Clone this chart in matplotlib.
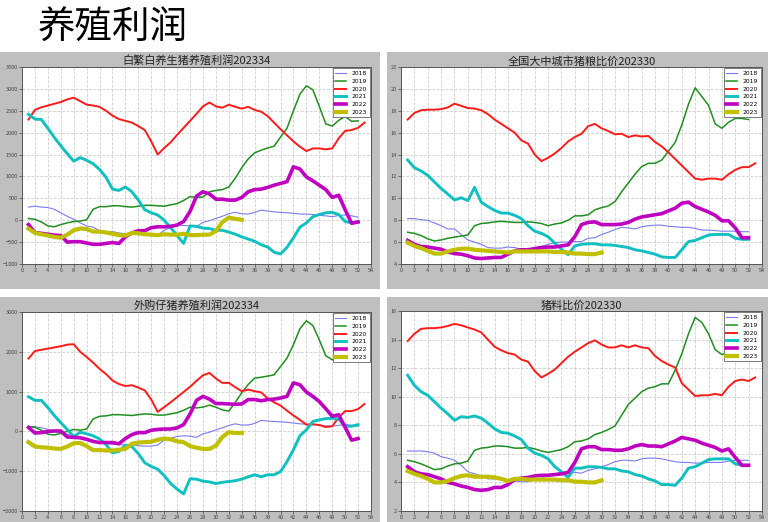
import matplotlib
matplotlib.use("Agg")
import matplotlib.pyplot as plt
from matplotlib.patches import Rectangle
import numpy as np

plt.rcParams['font.family'] = ['Noto Sans CJK SC', 'DejaVu Sans']

years = ['2018', '2019', '2020', '2021', '2022', '2023']

# ---- Panel 1: 白繁白养生猪养殖利润 ----
p1_title = '白繁白养生猪养殖利润202334'
p1_2018 = [300, 320, 300, 290, 250, 170, 90, 20, -60, -130, -160, -240, -280, -260, -290, -310, -310, -300, -310, -330,
           -340, -230, -160, -110, -120, -130, -140, -50, -10, 40, 90, 150, 180, 150, 140, 180, 230, 210, 190, 180,
           170, 160, 140, 140, 130, 110, 100, 80, 110, 120, 100, 70]
p1_2019 = [40, 20, -40, -130, -150, -100, -60, -30, -20, 10, 250, 310, 310, 330, 330, 310, 300, 320, 340, 340,
           330, 320, 350, 380, 450, 540, 520, 530, 650, 680, 700, 760, 960, 1200, 1400, 1540, 1600, 1650, 1690, 1900,
           2100, 2500, 2880, 3070, 2980, 2600, 2200, 2150, 2280, 2370, 2260, 2270]
p1_2020 = [2300, 2520, 2580, 2620, 2660, 2700, 2760, 2800, 2720, 2640, 2620, 2590, 2500, 2390, 2310, 2270, 2230, 2150,
           2060, 1800, 1500, 1650, 1780, 1950, 2110, 2270, 2430, 2600, 2690, 2600, 2570, 2640, 2590, 2550, 2590, 2520,
           2480, 2380, 2230, 2080, 1940, 1800, 1680, 1580, 1640, 1640, 1620, 1640, 1870, 2040, 2060, 2110, 2230]
p1_2021 = [2420, 2310, 2300, 2100, 1890, 1700, 1520, 1350, 1430, 1370, 1290, 1160, 980, 710, 680, 760, 650, 460, 240,
           170, 120, 0, -170, -350, -530, -130, -140, -180, -190, -230, -230, -270, -320, -380, -430, -480, -560, -610,
           -730, -770, -620, -400, -160, -60, 80, 130, 170, 180, 130, -30, -60, -40]
p1_2022 = [-100, -280, -300, -320, -340, -350, -500, -490, -490, -520, -550, -550, -530, -510, -530, -380, -290, -240,
           -240, -170, -150, -150, -140, -110, -30, 200, 550, 650, 600, 480, 480, 460, 460, 520, 650, 700, 710, 750,
           800, 840, 880, 1220, 1170, 990, 900, 800, 700, 520, 570, 240, -70, -40]
p1_2023 = [-190, -290, -320, -350, -380, -400, -330, -230, -190, -200, -260, -260, -280, -310, -340, -350, -290, -300,
           -320, -330, -340, -320, -330, -330, -310, -340, -340, -330, -330, -250, -40, 60, 30, 10]

# ---- Panel 2: 全国大中城市猪粮比价 ----
p2_title = '全国大中城市猪粮比价202330'
p2_2018 = [8.15, 8.15, 8.05, 8.0, 7.75, 7.5, 7.2, 7.2, 6.7, 6.2, 6.0, 5.8, 5.5, 5.45, 5.45, 5.55, 5.5, 5.35, 5.3, 5.5,
           5.6, 5.8, 5.95, 6.0, 6.0, 6.05, 6.05, 6.35, 6.4, 6.7, 6.9, 7.15, 7.35, 7.3, 7.2, 7.4, 7.5, 7.55, 7.55, 7.45,
           7.4, 7.35, 7.35, 7.25, 7.1, 7.1, 7.05, 7.0, 7.0, 7.0, 6.95, 6.95]
p2_2019 = [6.9, 6.8, 6.6, 6.3, 6.1, 6.2, 6.35, 6.45, 6.55, 6.65, 7.5, 7.7, 7.75, 7.85, 7.9, 7.85, 7.8, 7.8, 7.85, 7.8,
           7.7, 7.5, 7.65, 7.75, 8.0, 8.4, 8.4, 8.5, 8.95, 9.15, 9.3, 9.7, 10.6, 11.4, 12.2, 12.9, 13.2, 13.2, 13.5,
           14.3, 15.1, 16.7, 18.6, 20.1, 19.3, 18.5, 16.8, 16.4, 16.95, 17.3, 17.3, 17.2]
p2_2020 = [17.2, 17.8, 18.05, 18.1, 18.1, 18.15, 18.3, 18.65, 18.45, 18.25, 18.2, 18.05, 17.7, 17.2, 16.8, 16.4, 16.0,
           15.3, 15.0, 14.0, 13.4, 13.7, 14.1, 14.6, 15.2, 15.6, 15.9, 16.6, 16.8, 16.4, 16.15, 15.85, 15.9, 15.6,
           15.75, 15.65, 15.7, 15.15, 14.75, 14.2, 13.6, 13.0, 12.4, 11.8, 11.7, 11.8, 11.8, 11.7, 12.2, 12.6, 12.85,
           12.85, 13.2]
p2_2021 = [13.5, 12.8, 12.5, 12.1, 11.5, 10.9, 10.4, 9.85, 10.05, 9.8, 11.0, 9.65, 9.25, 8.9, 8.65, 8.65, 8.45, 8.15,
           7.5, 7.0, 6.8, 6.5, 5.9, 5.35, 4.85, 5.65, 5.8, 5.85, 5.85, 5.75, 5.75, 5.7, 5.6, 5.5, 5.3, 5.2, 5.05, 4.9,
           4.65, 4.6, 4.6, 5.3, 6.05, 6.15, 6.4, 6.65, 6.7, 6.7, 6.7, 6.35, 6.25, 6.25]
p2_2022 = [6.15, 5.8, 5.6, 5.55, 5.45, 5.35, 5.1, 4.95, 4.9, 4.75, 4.55, 4.5, 4.55, 4.6, 4.6, 4.9, 5.2, 5.3, 5.3, 5.4,
           5.5, 5.55, 5.55, 5.65, 5.75, 6.5, 7.6, 7.8, 7.85, 7.6, 7.6, 7.6, 7.65, 7.8, 8.1, 8.3, 8.4, 8.5, 8.6, 8.85,
           9.1, 9.55, 9.65, 9.25, 9.0, 8.75, 8.45, 7.95, 7.95, 7.3, 6.4, 6.4]
p2_2023 = [5.95, 5.65, 5.45, 5.2, 4.95, 4.95, 5.15, 5.3, 5.4, 5.4, 5.3, 5.25, 5.2, 5.15, 5.1, 5.05, 5.15, 5.15, 5.15,
           5.15, 5.15, 5.15, 5.1, 5.1, 5.05, 4.95, 4.95, 4.9, 4.9, 5.05]

# ---- Panel 3: 外购仔猪养殖利润 ----
p3_title = '外购仔猪养殖利润202334'
p3_2018 = [120, 120, 90, 50, 0, -20, -70, -120, -170, -210, -240, -290, -300, -320, -330, -340, -340, -360, -370, -370,
           -340, -220, -170, -130, -110, -120, -150, -60, -20, 40, 90, 150, 190, 160, 160, 200, 280, 260, 250, 240,
           230, 210, 190, 180, 170, 160, 140, 130, 150, 180, 150, 130]
p3_2019 = [120, 100, 30, -70, -90, -50, 0, 50, 30, 60, 310, 380, 390, 420, 420, 410, 400, 420, 440, 430, 410, 410, 440,
           470, 530, 610, 590, 610, 660, 610, 540, 510, 730, 970, 1180, 1340, 1360, 1390, 1420, 1630, 1840, 2180, 2580,
           2780, 2660, 2300, 1900, 1800, 1850, 1900, 1880, 1870]
p3_2020 = [1830, 2020, 2050, 2080, 2110, 2140, 2180, 2190, 2000, 1870, 1730, 1570, 1440, 1280, 1190, 1140, 1160, 1100,
           1030, 800, 490, 610, 730, 860, 990, 1120, 1270, 1410, 1470, 1330, 1220, 1220, 1110, 1010, 1050, 1010, 980,
           830, 730, 650, 520, 400, 290, 170, 180, 160, 110, 130, 350, 510, 510, 560, 690]
p3_2021 = [870, 780, 780, 600, 400, 220, 50, -130, -20, -60, -110, -190, -330, -540, -500, -350, -380, -560, -790, -880,
           -950, -1110, -1310, -1450, -1570, -1190, -1200, -1250, -1270, -1310, -1280, -1260, -1240, -1200, -1140,
           -1090, -1140, -1090, -1090, -1010, -760, -460, -110, 40, 250, 290, 320, 330, 310, 130, 130, 170]
p3_2022 = [100, -40, -30, 0, 10, 10, -140, -150, -160, -200, -250, -280, -280, -280, -310, -180, -80, -30, -30, 30, 50,
           60, 60, 90, 170, 440, 780, 880, 810, 700, 700, 690, 680, 690, 800, 800, 770, 800, 810, 840, 880, 1220, 1170,
           990, 880, 750, 570, 380, 420, 100, -220, -180]
p3_2023 = [-270, -380, -400, -410, -430, -440, -380, -300, -290, -370, -470, -470, -480, -480, -460, -440, -310, -280,
           -270, -260, -210, -180, -200, -250, -270, -370, -410, -440, -440, -360, -140, -20, -40, -40]

# ---- Panel 4: 猪料比价 ----
p4_title = '猪料比价202330'
p4_2018 = [6.2, 6.2, 6.2, 6.15, 6.05, 5.8, 5.7, 5.55, 5.2, 4.75, 4.6, 4.45, 4.25, 4.25, 4.25, 4.15, 4.1, 4.05, 4.05,
           4.2, 4.3, 4.5, 4.6, 4.7, 4.75, 4.7, 4.65, 4.85, 4.95, 5.1, 5.25, 5.45, 5.55, 5.55, 5.5, 5.65, 5.7, 5.7,
           5.65, 5.55, 5.45, 5.4, 5.4, 5.35, 5.35, 5.4, 5.4, 5.4, 5.5, 5.55, 5.55, 5.55]
p4_2019 = [5.55, 5.45, 5.3, 5.1, 4.9, 4.95, 5.15, 5.3, 5.35, 5.5, 6.25, 6.4, 6.45, 6.55, 6.55, 6.5, 6.4, 6.4, 6.45,
           6.35, 6.2, 6.1, 6.2, 6.3, 6.5, 6.85, 6.9, 7.05, 7.35, 7.5, 7.7, 7.95, 8.7, 9.45, 9.9, 10.35, 10.6, 10.7,
           10.9, 10.9, 11.85, 13.0, 14.4, 15.55, 15.2, 14.4, 13.3, 12.95, 13.1, 13.3, 13.2, 13.1]
p4_2020 = [13.9, 14.4, 14.75, 14.8, 14.8, 14.85, 14.95, 15.1, 15.0, 14.85, 14.7, 14.5, 14.0, 13.5, 13.25, 13.05, 12.95,
           12.6, 12.45, 11.8, 11.35, 11.6, 11.9, 12.35, 12.8, 13.15, 13.45, 13.75, 13.95, 13.65, 13.45, 13.45, 13.6,
           13.45, 13.6, 13.45, 13.4, 12.85, 12.5, 12.25, 12.05, 10.95, 10.5, 10.05, 10.1, 10.1, 10.2, 10.1, 10.7,
           11.1, 11.2, 11.1, 11.35]
p4_2021 = [11.5, 10.8, 10.35, 10.1, 9.65, 9.2, 8.8, 8.35, 8.6, 8.55, 8.65, 8.5, 8.15, 7.75, 7.5, 7.45, 7.25, 7.0, 6.4,
           6.05, 5.9, 5.65, 5.1, 4.75, 4.35, 5.0, 5.0, 5.1, 5.1, 5.05, 4.95, 4.95, 4.8, 4.75, 4.55, 4.45, 4.25, 4.1,
           3.85, 3.85, 3.8, 4.3, 5.0, 5.1, 5.35, 5.6, 5.65, 5.65, 5.65, 5.3, 5.2, 5.2]
p4_2022 = [5.1, 4.75, 4.6, 4.55, 4.4, 4.25, 4.0, 3.9, 3.75, 3.65, 3.5, 3.45, 3.5, 3.65, 3.65, 3.85, 4.2, 4.3, 4.35,
           4.45, 4.5, 4.5, 4.55, 4.6, 4.7, 5.4, 6.35, 6.5, 6.5, 6.3, 6.3, 6.25, 6.25, 6.35, 6.55, 6.65, 6.55, 6.55,
           6.5, 6.7, 6.9, 7.15, 7.05, 6.95, 6.75, 6.6, 6.45, 6.2, 6.35, 5.75, 5.2, 5.2]
p4_2023 = [4.8, 4.6, 4.45, 4.25, 4.0, 4.0, 4.1, 4.3, 4.45, 4.5, 4.4, 4.4, 4.4, 4.35, 4.25, 4.1, 4.25, 4.25, 4.2, 4.2,
           4.2, 4.2, 4.2, 4.15, 4.15, 4.05, 4.05, 4.0, 4.0, 4.15]

panels = [
    dict(title=p1_title, series=[p1_2018, p1_2019, p1_2020, p1_2021, p1_2022, p1_2023],
         ylim=(-1000, 3500), yticks=np.arange(-1000, 3501, 500)),
    dict(title=p2_title, series=[p2_2018, p2_2019, p2_2020, p2_2021, p2_2022, p2_2023],
         ylim=(4, 22), yticks=np.arange(4, 23, 2)),
    dict(title=p3_title, series=[p3_2018, p3_2019, p3_2020, p3_2021, p3_2022, p3_2023],
         ylim=(-2000, 3000), yticks=np.arange(-2000, 3001, 1000)),
    dict(title=p4_title, series=[p4_2018, p4_2019, p4_2020, p4_2021, p4_2022, p4_2023],
         ylim=(2, 16), yticks=np.arange(2, 17, 2)),
]

colors = ['#7b7bf0', '#1f8f1f', '#ff1a1a', '#10c0c0', '#c000c0', '#c0c000']
widths = [0.8, 1.1, 1.4, 2.1, 2.6, 3.0]

W, H = 775, 522
fig = plt.figure(figsize=(W / 100, H / 100), dpi=100)
fig.patch.set_facecolor('white')

def fx(px):
    return px / W

def fy(py):
    return 1 - py / H

# gray panel backgrounds (px: x0, y0, x1, y1)
bgs = [(0, 52, 380, 289), (387, 52, 768, 289), (0, 297, 380, 522), (387, 297, 768, 522)]
for (x0, y0, x1, y1) in bgs:
    fig.patches.append(Rectangle((fx(x0), fy(y1)), fx(x1 - x0), (y1 - y0) / H,
                                 transform=fig.transFigure, facecolor='#bfbfbf', edgecolor='none', zorder=-5))

# axes boxes (px: left, top, right, bottom)
boxes = [(22, 67, 371, 264), (401, 67, 762, 264), (22, 312, 371, 511), (401, 311, 762, 511)]

fig.text(fx(38), fy(28), '养殖利润', fontsize=27, color='black', va='center', ha='left')

for p, (l, t, r, b) in zip(panels, boxes):
    ax = fig.add_axes([fx(l), fy(b), fx(r - l), (b - t) / H])
    ax.set_zorder(2)
    ax.set_facecolor('white')
    for yr, s, c, w in zip(years, p['series'], colors, widths):
        x = np.arange(1, len(s) + 1)
        ax.plot(x, s, color=c, lw=w, label=yr, solid_joinstyle='round')
    ax.set_xlim(0, 54)
    ax.set_ylim(*p['ylim'])
    ax.set_xticks(np.arange(0, 55, 2))
    ax.set_yticks(p['yticks'])
    ax.grid(True, ls='--', color='#cfcfcf', lw=0.6)
    ax.tick_params(labelsize=4, length=2, width=0.5, colors='#444444', pad=1)
    for sp in ax.spines.values():
        sp.set_color('#555555')
        sp.set_linewidth(0.7)
    ax.set_title(p['title'], fontsize=8, pad=1.5, color='#222222')
    leg = ax.legend(loc='upper right', prop={'family': 'DejaVu Sans', 'size': 4.3},
                    frameon=True, fancybox=False,
                    handlelength=1.8, labelspacing=0.42, borderpad=0.45, handletextpad=0.9,
                    borderaxespad=0.25)
    leg.get_frame().set_edgecolor('#666666')
    leg.get_frame().set_linewidth(0.6)
    leg.get_frame().set_alpha(1)

fig.savefig('out.png', dpi=100, facecolor='white')
